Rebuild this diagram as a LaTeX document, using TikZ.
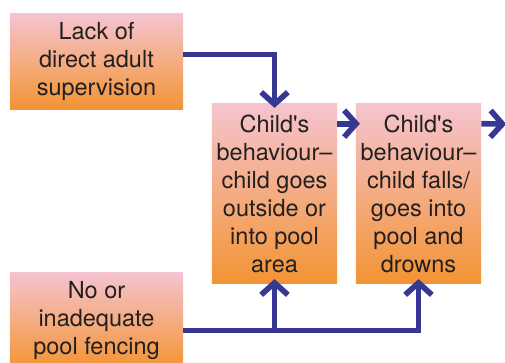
\documentclass[tikz,border=0pt]{standalone}
\usepackage{fontspec}
\setmainfont{TeX Gyre Heros}
\usetikzlibrary{arrows.meta,calc}
\definecolor{boxtop}{RGB}{245, 196, 208}
\definecolor{boxbottom}{RGB}{243, 148, 52}
\definecolor{flowblue}{RGB}{54, 56, 148}
\definecolor{textgrey}{RGB}{35, 31, 32}

\begin{document}
\begin{tikzpicture}[
        x=0.025cm, y=-0.025cm,
        factor/.style={top color=boxtop, bottom color=boxbottom, draw=none, text=textgrey,
            align=center, inner sep=0pt, font=\fontsize{16.7}{19.9}\selectfont},
        cause/.style={factor, minimum width=4.325cm, minimum height=2.375cm},
        stage/.style={factor, minimum width=3.125cm, minimum height=4.475cm},
        flow/.style={line width=4pt, draw=flowblue,
            -{Straight Barb[length=8.5pt,width=19pt]}, shorten >=-3pt}
    ]
    \useasboundingbox (0, 0) rectangle (505, 362);
    \clip (0, 0) rectangle (505, 362);

    \node[cause] (super) at (96.5, 61.5) {Lack of\\direct adult\\supervision};
    \node[cause] (fence) at (96.5, 320.5) {No or\\inadequate\\pool fencing};
    \node[stage] (outside) at (274.5, 193.5)
    {Child\textquotesingle s\\behaviour--\\child goes\\outside or\\into pool\\area};
    \node[stage] (drowns) at (418.5, 193.5)
    {Child\textquotesingle s\\behaviour--\\child falls/\\goes into\\pool and\\drowns};

    % connectors
    \coordinate (s1) at ($(super.east)+(0, -7)$);
    \coordinate (f1) at ($(fence.east)+(0, 10)$);
    \coordinate (o1) at ($(outside.north east)+(0, 20)$);
    \coordinate (d1) at ($(drowns.north east)+(0, 20)$);
    \coordinate (exit) at (502, 124);

    \draw[flow] (s1) -| (outside.north);
    \draw[flow] (o1) -- (o1 -| drowns.west);
    \draw[flow] (d1) -- (exit);
    \draw[flow] (f1) -| (drowns.south);
    \draw[flow] (outside.south |- f1) -- (outside.south);
\end{tikzpicture}
\end{document}
